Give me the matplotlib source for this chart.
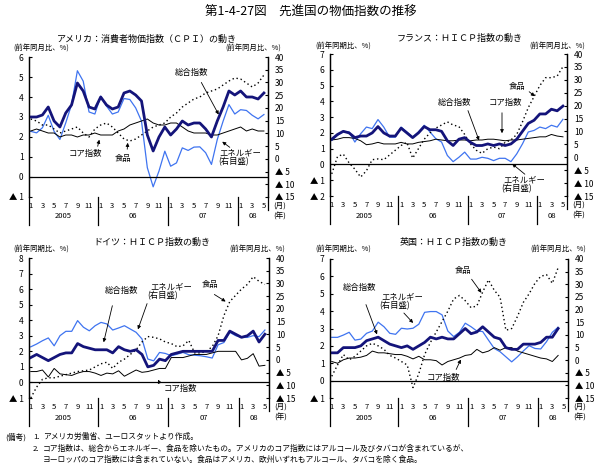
import matplotlib
matplotlib.use('Agg')
import matplotlib.pyplot as plt
from matplotlib.transforms import blended_transform_factory
import numpy as np

plt.rcParams['font.family'] = ['Noto Sans CJK JP', 'DejaVu Sans']

W, H = 604, 475

# month index 0 = 2005/1 ... 40 = 2008/5
month_labels = ['1', '3', '5', '7', '9', '11']
year_labels = ['2005', '06', '07', '08']

us_total = [3.0, 3.0, 3.1, 3.5, 2.8, 2.5, 3.2, 3.6, 4.7, 4.3, 3.5, 3.4,
            4.0, 3.6, 3.4, 3.5, 4.2, 4.3, 4.1, 3.8, 2.1, 1.3, 2.0, 2.5,
            2.1, 2.4, 2.8, 2.6, 2.7, 2.7, 2.4, 2.0, 2.8, 3.5, 4.3, 4.1,
            4.3, 4.0, 4.0, 3.9, 4.2]
us_core = [2.3, 2.4, 2.3, 2.2, 2.2, 2.0, 2.1, 2.1, 2.0, 2.1, 2.1, 2.2,
           2.1, 2.1, 2.1, 2.3, 2.4, 2.6, 2.7, 2.8, 2.9, 2.7, 2.6, 2.6,
           2.7, 2.7, 2.5, 2.3, 2.2, 2.2, 2.2, 2.1, 2.1, 2.2, 2.3, 2.4,
           2.5, 2.3, 2.4, 2.3, 2.3]
us_food = [2.9, 2.8, 2.6, 2.6, 2.4, 2.2, 2.3, 2.4, 2.5, 2.2, 2.0, 2.4,
           2.6, 2.7, 2.5, 2.2, 1.9, 1.8, 1.9, 2.1, 2.3, 2.5, 2.6, 2.7,
           3.0, 3.2, 3.5, 3.7, 3.9, 4.0, 4.2, 4.3, 4.4, 4.6, 4.8, 4.95,
           4.9, 4.7, 4.5, 4.7, 5.1]
us_energy = [10.8, 10.2, 12.2, 17.1, 10.8, 7.6, 14.1, 21.3, 34.6, 30.5, 18.4, 17.6,
             24.6, 20.7, 17.6, 18.4, 23.7, 23.3, 20.0, 14.8, -3.5, -11.0, -4.8, 3.0,
             -2.9, -1.6, 4.3, 3.3, 4.6, 4.7, 2.4, -2.2, 7.6, 14.8, 21.3, 17.6,
             19.3, 19.0, 17.1, 15.7, 17.4]

fr_total = [1.6, 1.9, 2.1, 2.0, 1.7, 1.8, 1.8, 2.0, 2.4, 2.0, 1.8, 1.8,
            2.3, 2.0, 1.7, 2.0, 2.4, 2.2, 2.2, 2.1, 1.5, 1.2, 1.6, 1.7,
            1.4, 1.2, 1.2, 1.3, 1.2, 1.3, 1.2, 1.3, 1.6, 2.1, 2.6, 2.8,
            3.2, 3.2, 3.5, 3.4, 3.7]
fr_core = [1.55, 1.6, 1.7, 1.7, 1.65, 1.5, 1.25, 1.3, 1.4, 1.3, 1.3, 1.3,
           1.4, 1.3, 1.3, 1.4, 1.45, 1.5, 1.6, 1.55, 1.5, 1.5, 1.55, 1.55,
           1.5, 1.55, 1.55, 1.6, 1.6, 1.55, 1.5, 1.55, 1.55, 1.6, 1.65, 1.7,
           1.75, 1.75, 1.9, 1.8, 1.75]
fr_food = [-0.6, 0.5, 0.65, 0.1, -0.3, -0.8, -0.4, 0.3, 0.35, 0.3, 0.6, 0.9,
           1.2, 1.4, 0.4, 1.0, 1.6, 2.0, 2.3, 2.5, 2.7, 2.5, 2.4, 1.9,
           1.3, 0.9, 0.7, 1.0, 1.1, 1.0, 1.4, 1.55, 1.9, 2.7, 3.6, 4.3,
           5.0, 5.5, 5.5, 5.6, 6.2]
fr_energy = [6.5, 8.5, 10.0, 9.8, 5.9, 9.1, 11.7, 11.1, 14.6, 11.7, 7.8, 7.8,
             11.7, 9.8, 7.8, 9.8, 12.4, 9.8, 7.2, 5.9, 0.7, -1.7, 0.0, 2.0,
             -0.7, -0.7, 0.0, -0.4, -1.3, -0.4, -0.4, -1.7, 1.3, 5.2, 9.8, 10.4,
             11.7, 11.1, 12.4, 11.7, 14.7]

de_total = [1.6, 1.8, 1.6, 1.4, 1.6, 1.8, 1.9, 1.9, 2.5, 2.3, 2.2, 2.1,
            2.1, 2.1, 1.9, 2.3, 2.1, 2.0, 2.1, 1.8, 1.0, 1.1, 1.5, 1.4,
            1.8, 1.9, 2.0, 2.0, 2.0, 2.0, 2.0, 2.0, 2.7, 2.7, 3.3, 3.1,
            2.9, 3.0, 3.3, 2.6, 3.1]
de_core = [0.7, 0.7, 0.8, 0.35, 0.9, 0.55, 0.5, 0.45, 0.6, 0.7, 0.7, 0.6,
           0.45, 0.6, 0.55, 0.75, 0.4, 0.6, 0.8, 0.65, 0.7, 0.8, 0.9, 0.9,
           1.6, 1.6, 1.6, 1.7, 1.8, 1.8, 1.8, 1.9, 2.0, 2.0, 2.0, 2.0,
           1.45, 1.55, 1.85, 1.05, 1.1]
de_food = [-1.0, -0.3, 0.2, 0.3, 0.3, 0.4, 0.5, 0.6, 0.7, 0.75, 0.8, 1.0,
           1.2, 1.3, 0.9, 1.3, 1.5, 1.8, 2.1, 2.6, 2.95, 2.9, 2.8, 2.6,
           2.5, 2.3, 2.35, 2.7, 1.9, 1.9, 2.0, 2.3, 3.0, 4.3, 5.2, 5.6,
           6.0, 6.3, 6.8, 6.5, 6.3]
de_energy = [5.1, 6.2, 7.5, 8.6, 5.5, 9.5, 11.2, 11.2, 15.4, 12.8, 11.4, 13.4,
             14.7, 14.1, 11.7, 12.5, 13.4, 12.1, 10.8, 8.2, 0.3, -0.4, 2.9, 2.5,
             1.6, 2.2, 2.9, 2.0, 1.8, 1.6, 1.2, 0.7, 5.9, 6.8, 10.8, 9.5,
             8.8, 8.8, 9.5, 9.1, 11.7]

# UK series end in 2008/4
uk_total = [1.6, 1.6, 1.9, 1.9, 1.9, 2.0, 2.3, 2.4, 2.5, 2.3, 2.1, 2.0,
            1.9, 2.0, 1.8, 2.0, 2.2, 2.5, 2.4, 2.5, 2.4, 2.4, 2.7, 3.0,
            2.7, 2.8, 3.1, 2.8, 2.5, 2.4, 1.9, 1.8, 1.8, 2.1, 2.1, 2.1,
            2.2, 2.5, 2.5, 3.0]
uk_core = [1.1, 1.0, 1.2, 1.3, 1.3, 1.35, 1.45, 1.7, 1.6, 1.6, 1.55, 1.5,
           1.5, 1.4, 1.25, 1.4, 1.2, 1.2, 1.15, 0.9, 1.1, 1.2, 1.3, 1.45,
           1.5, 1.8, 1.6, 1.7, 1.9, 1.75, 1.9, 1.9, 1.7, 1.6, 1.5, 1.4,
           1.3, 1.25, 1.1, 1.45]
uk_food = [0.25, 0.9, 1.5, 1.2, 1.4, 1.7, 2.0, 2.15, 2.0, 1.8, 1.45, 1.3,
           1.1, 0.9, -0.4, 0.4, 1.5, 2.2, 2.8, 3.4, 4.0, 4.7, 4.9, 4.6,
           4.2, 4.3, 5.1, 5.8, 5.2, 4.8, 2.9, 3.0, 3.7, 4.5, 5.0, 5.6,
           6.0, 6.1, 5.6, 6.5]
uk_energy = [9.0, 9.0, 9.9, 11.0, 7.9, 8.3, 10.6, 11.5, 15.0, 13.2, 10.6, 10.2,
             12.6, 12.3, 12.6, 14.2, 18.9, 19.2, 19.2, 17.9, 11.5, 9.3, 11.0, 14.6,
             13.2, 11.5, 11.3, 7.9, 4.6, 3.3, 1.3, -0.7, 1.3, 3.6, 5.7, 4.6,
             4.4, 7.3, 11.0, 13.0]

NAVY = '#14147a'
BLUE = '#3f74f0'

fig = plt.figure(figsize=(W / 100, H / 100), dpi=100)


def P(x, y):
    return (x / W, 1 - y / H)


def fmt(v):
    v = int(round(v))
    return f'▲ {abs(v)}' if v < 0 else str(v)


def panel(box, lylim, total, core, food, energy):
    x0, y0, x1, y1 = box
    ax = fig.add_axes([x0 / W, 1 - y1 / H, (x1 - x0) / W, (y1 - y0) / H])
    ax2 = ax.twinx()
    ax.set_zorder(ax2.get_zorder() + 1)
    ax.patch.set_visible(False)

    ax2.plot(np.arange(len(energy)), energy, color=BLUE, lw=0.9)
    ax.plot(np.arange(len(food)), food, color='black', lw=1.0, ls=(0, (1, 2)))
    ax.plot(np.arange(len(core)), core, color='black', lw=0.7)
    ax.plot(np.arange(len(total)), total, color=NAVY, lw=2.0)
    ax.axhline(0, color='black', lw=0.9)

    ax.set_xlim(-0.3, 40.7)
    ax.set_ylim(*lylim)
    ax2.set_ylim(-15, 40)
    ax.set_yticks(np.arange(lylim[0], lylim[1] + 1))
    ax.set_yticklabels([fmt(v) for v in np.arange(lylim[0], lylim[1] + 1)])
    ax2.set_yticks(np.arange(-15, 41, 5))
    ax2.set_yticklabels([fmt(v) for v in np.arange(-15, 41, 5)])
    ax.tick_params(axis='y', direction='in', length=2, pad=4, labelsize=6)
    ax2.tick_params(axis='y', direction='in', length=2, pad=5, labelsize=6)
    ax.set_xticks([])
    for a in (ax, ax2):
        a.spines['top'].set_visible(False)
        a.spines['bottom'].set_visible(False)
        a.spines['left'].set_linewidth(0.9)
        a.spines['right'].set_linewidth(0.9)

    h = y1 - y0
    tr = blended_transform_factory(ax.transData, ax.transAxes)
    for i in range(41):
        if i % 2 == 0 and i % 12 < 11:
            ax.text(i, -9 / h, month_labels[(i % 12) // 2], transform=tr,
                    ha='center', va='center', fontsize=5.5)
    for k, lab in enumerate(year_labels):
        start = k * 12 - 0.5 if k else -0.3
        end = min(k * 12 + 11.5, 40.7)
        ax.text((start + end) / 2, -19.5 / h, lab, transform=tr,
                ha='center', va='center', fontsize=5.5)
    for xs in (11.5, 23.5, 35.5):
        ax.plot([xs, xs], [0, -28 / h], transform=tr, color='black',
                lw=0.9, clip_on=False)
    ax.plot([0, 0], [0, -28 / h], transform=ax.transAxes, color='black',
            lw=0.9, clip_on=False)
    ax.plot([1, 1], [0, -13 / h], transform=ax.transAxes, color='black',
            lw=0.9, clip_on=False)
    ax.text(1 + 12 / (x1 - x0), -9 / h, '(月)', transform=ax.transAxes,
            ha='center', va='center', fontsize=5.5)
    ax.text(1 + 12 / (x1 - x0), -19.5 / h, '(年)', transform=ax.transAxes,
            ha='center', va='center', fontsize=5.5)
    return ax


def label(text, xy, tail, head, size=6):
    fig.text(*P(*xy), text, ha='center', va='center', fontsize=size)
    if tail is not None:
        fig.add_artist(matplotlib.patches.FancyArrowPatch(
            P(*tail), P(*head), transform=fig.transFigure,
            arrowstyle='-|>', mutation_scale=5, lw=0.6, color='black'))


panel((29, 57, 268, 197), (-1, 6), us_total, us_core, us_food, us_energy)
panel((330, 54, 567, 196), (-2, 7), fr_total, fr_core, fr_food, fr_energy)
panel((29, 258, 269, 398), (-1, 8), de_total, de_core, de_food, de_energy)
panel((330, 259, 568, 398), (-1, 7), uk_total, uk_core, uk_food, uk_energy)

fig.text(*P(311, 12), '第1-4-27図　先進国の物価指数の推移', ha='center',
         va='center', fontsize=9)

fig.text(*P(147, 39), 'アメリカ：消費者物価指数（ＣＰＩ）の動き', ha='center', va='center', fontsize=6.5)
fig.text(*P(460, 38), 'フランス：ＨＩＣＰ指数の動き', ha='center', va='center', fontsize=6.5)
fig.text(*P(152, 242), 'ドイツ：ＨＩＣＰ指数の動き', ha='center', va='center', fontsize=6.5)
fig.text(*P(454, 242), '英国：ＨＩＣＰ指数の動き', ha='center', va='center', fontsize=6.5)

for x, y, t in [(41, 49, '(前年同月比、%)'), (253, 49, '(前年同月比、%)'),
                (343, 47, '(前年同期比、%)'), (557, 47, '(前年同月比、%)'),
                (41, 250, '(前年同期比、%)'), (257, 250, '(前年同月比、%)'),
                (343, 250, '(前年同期比、%)'), (558, 250, '(前年同月比、%)')]:
    fig.text(*P(x, y), t, ha='center', va='center', fontsize=5.3)

# US
label('総合指数', (192, 72), (200, 80), (220, 117))
label('コア指数', (85, 153), (97, 149), (100, 137))
label('食品', (123, 158), (127, 152), (128, 140))
label('エネルギー', (240, 153), (232, 149), (220, 140))
label('(右目盛)', (234, 162), None, None)
# France
label('食品', (517, 86), (527, 90), (537, 98))
label('総合指数', (455, 102), (467, 108), (480, 143))
label('コア指数', (505, 102), (502, 110), (502, 136))
label('エネルギー', (524, 180), (527, 176), (510, 162))
label('(右目盛)', (517, 189), None, None)
# Germany
label('総合指数', (122, 290), (113, 303), (103, 345))
label('エネルギー', (171, 287), (148, 301), (137, 332))
label('(右目盛)', (163, 296), None, None)
label('食品', (210, 285), (212, 293), (228, 303))
label('コア指数', (180, 388), (160, 384), (157, 377))
# UK
label('食品', (463, 270), (470, 277), (483, 295))
label('総合指数', (360, 287), (365, 302), (378, 337))
label('エネルギー', (402, 297), None, None)
label('(右目盛)', (395, 306), (402, 311), (415, 325))
label('コア指数', (443, 377), (455, 372), (462, 357))

notes = [(5, 437, '(備考)'), (33, 437, '1.'), (43, 437, 'アメリカ労働省、ユーロスタットより作成。'),
         (33, 449, '2.'),
         (43, 449, 'コア指数は、総合からエネルギー、食品を除いたもの。アメリカのコア指数にはアルコール及びタバコが含まれているが、'),
         (43, 460, 'ヨーロッパのコア指数には含まれていない。食品はアメリカ、欧州いずれもアルコール、タバコを除く食品。')]
for x, y, t in notes:
    fig.text(*P(x, y), t, ha='left', va='center', fontsize=5.6)

fig.savefig('out.png', dpi=100)
